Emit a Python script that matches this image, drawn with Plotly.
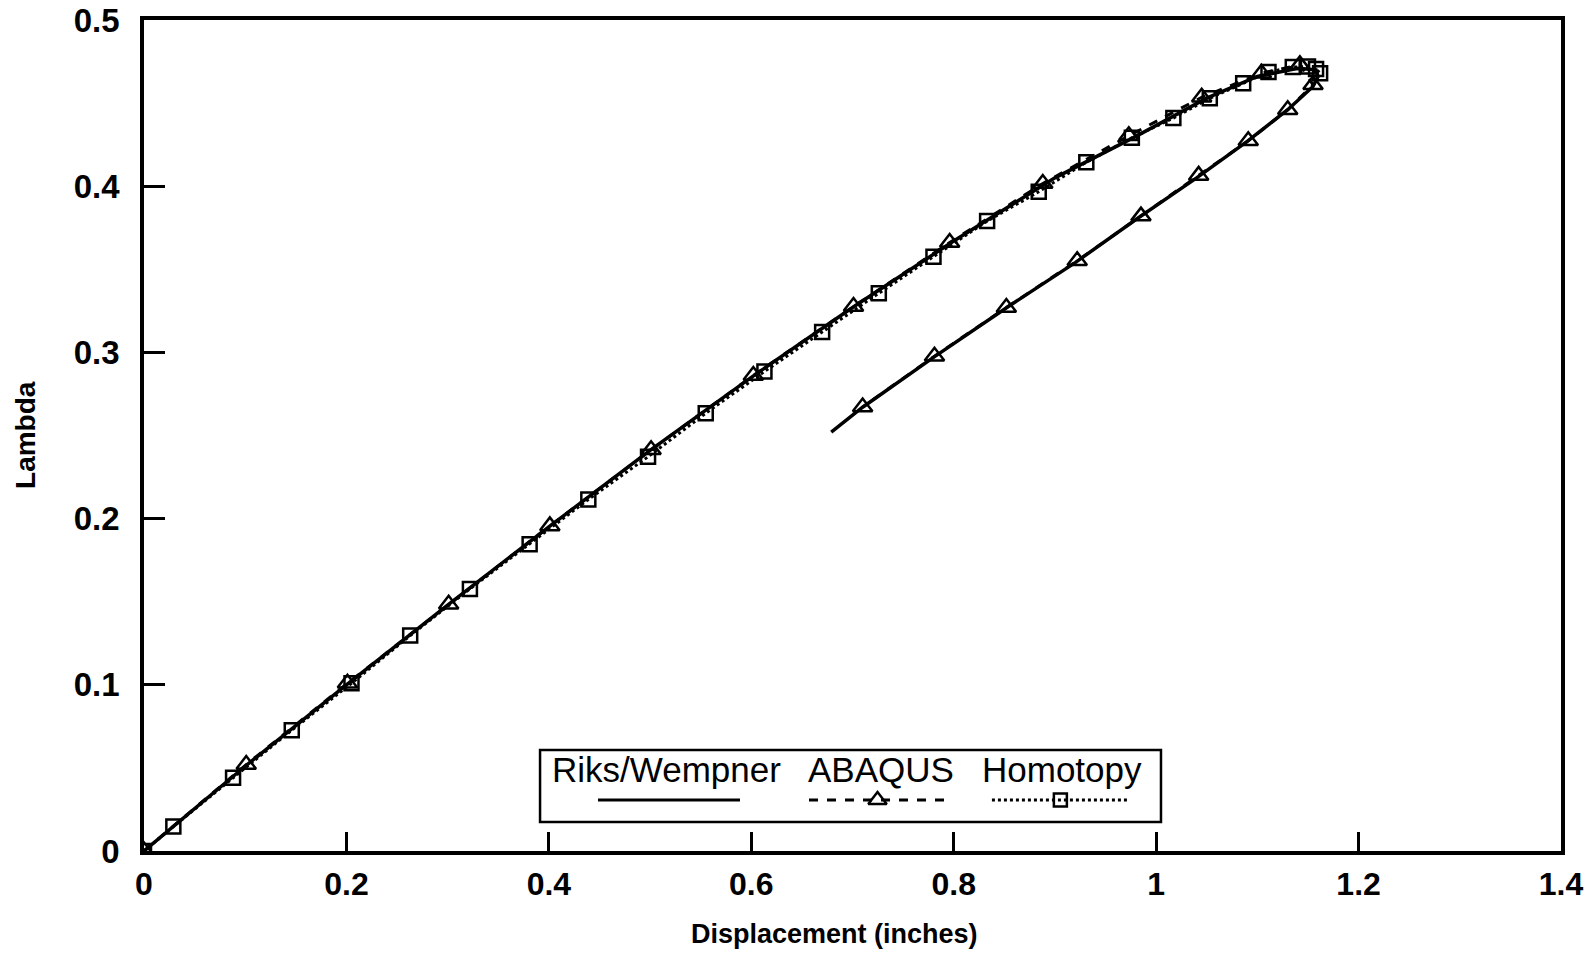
import plotly.graph_objects as go

################################
# Data (displacement in inches, lambda)
riks_x = [0, 0.1, 0.2, 0.3, 0.4, 0.5, 0.6, 0.7, 0.8, 0.9, 0.98, 1.05, 1.10, 1.14,
          1.158, 1.16, 1.155, 1.13, 1.09, 1.04, 0.98, 0.92, 0.85, 0.78, 0.71, 0.679]
riks_y = [0, 0.051, 0.100, 0.148, 0.195, 0.241, 0.285, 0.327, 0.367, 0.405, 0.430,
          0.453, 0.466, 0.471, 0.470, 0.466, 0.460, 0.446, 0.427, 0.405, 0.380,
          0.354, 0.326, 0.297, 0.267, 0.252]

abaqus_x = [0, 0.101, 0.201, 0.301, 0.401, 0.501, 0.602, 0.701, 0.796, 0.888, 0.973,
            1.045, 1.104, 1.142, 1.155, 1.130, 1.091, 1.042, 0.985, 0.922, 0.852,
            0.781, 0.710]
abaqus_y = [0, 0.052, 0.1009, 0.1485, 0.1956, 0.2414, 0.2861, 0.3276, 0.3661, 0.4016,
            0.4303, 0.4535, 0.468, 0.473, 0.461, 0.446, 0.4273, 0.4065, 0.382,
            0.3551, 0.327, 0.2977, 0.2671]

homotopy_x = [0, 0.029, 0.088, 0.146, 0.205, 0.263, 0.322, 0.381, 0.439, 0.498, 0.555,
              0.613, 0.670, 0.726, 0.780, 0.833, 0.884, 0.931, 0.976, 1.017, 1.053,
              1.086, 1.111, 1.135, 1.150, 1.158, 1.162]
homotopy_y = [0, 0.0147, 0.044, 0.0727, 0.1009, 0.1296, 0.1577, 0.1846, 0.2115, 0.2372,
              0.2634, 0.2885, 0.3123, 0.3356, 0.3576, 0.379, 0.3967, 0.4144, 0.4291,
              0.441, 0.4529, 0.462, 0.4687, 0.4717, 0.4720, 0.4705, 0.468]

series_names = ["Riks/Wempner", "ABAQUS", "Homotopy"]

FONT = "Liberation Sans, Arial, sans-serif"

fig = go.Figure()

# ABAQUS - dashed with open triangles
fig.add_trace(go.Scatter(
    x=abaqus_x, y=abaqus_y, mode="lines+markers", name=series_names[1],
    line=dict(color="black", width=3, dash="dash"),
    marker=dict(symbol="triangle-up-open", size=17, color="black",
                line=dict(width=2.5, color="black")),
    showlegend=False,
))
# Homotopy - dotted with open squares
fig.add_trace(go.Scatter(
    x=homotopy_x, y=homotopy_y, mode="lines+markers", name=series_names[2],
    line=dict(color="black", width=3, dash="dot"),
    marker=dict(symbol="square-open", size=14, color="black",
                line=dict(width=2.5, color="black")),
    showlegend=False,
))
# Riks/Wempner - solid
fig.add_trace(go.Scatter(
    x=riks_x, y=riks_y, mode="lines", name=series_names[0],
    line=dict(color="black", width=3.5),
    showlegend=False,
))

################################
# Hand-made legend (text above the line sample), drawn on an overlay axis 0..1
leg_text_x = [0.369, 0.520, 0.648]
leg_line_x = [(0.3204, 0.4206), (0.4693, 0.566), (0.5984, 0.695)]
leg_dash = ["solid", "dash", "dot"]
leg_symbol = [None, "triangle-up-open", "square-open"]
leg_text_y = 0.0975
leg_line_y = 0.0614

for name, tx, (x0, x1), dash, sym in zip(series_names, leg_text_x, leg_line_x, leg_dash, leg_symbol):
    fig.add_trace(go.Scatter(
        x=[x0, x1], y=[leg_line_y, leg_line_y], mode="lines",
        line=dict(color="black", width=3, dash=dash),
        xaxis="x2", yaxis="y2", showlegend=False, hoverinfo="skip",
    ))
    if sym:
        fig.add_trace(go.Scatter(
            x=[(x0 + x1) / 2], y=[leg_line_y], mode="markers",
            marker=dict(symbol=sym, size=16 if "triangle" in sym else 13, color="black",
                        line=dict(width=2.5, color="black")),
            xaxis="x2", yaxis="y2", showlegend=False, hoverinfo="skip",
        ))
    fig.add_annotation(
        x=tx, y=leg_text_y, xref="x2", yref="y2", text=name, showarrow=False,
        font=dict(family=FONT, size=35, color="black"), xanchor="center", yanchor="middle",
    )

fig.add_shape(type="rect", xref="x2", yref="y2", x0=0.2795, x1=0.7177, y0=0.0349, y1=0.1215,
              line=dict(color="black", width=2.5), fillcolor="rgba(0,0,0,0)")

# axis titles as annotations, placed like the reference
fig.add_annotation(x=0.487, y=-0.0999, xref="paper", yref="paper", showarrow=False,
                   text="<b>Displacement (inches)</b>", xanchor="center", yanchor="middle",
                   font=dict(family=FONT, size=27, color="black"))
fig.add_annotation(x=-0.084, y=0.5006, xref="paper", yref="paper", showarrow=False,
                   text="<b>Lambda</b>", textangle=-90, xanchor="center", yanchor="middle",
                   font=dict(family=FONT, size=28, color="black"))

################################
# Layout (page body margin is removed below, so the figure fills the window)
fig.update_layout(
    width=1595, height=955,
    margin=dict(l=144, r=34, t=20, b=104, autoexpand=False),
    plot_bgcolor="white", paper_bgcolor="white",
    font=dict(family=FONT, color="black"),
    xaxis=dict(
        range=[0, 1.4], tickvals=[0, 0.2, 0.4, 0.6, 0.8, 1, 1.2, 1.4],
        ticks="inside", ticklen=19, tickwidth=2.5, tickcolor="black",
        showline=True, linecolor="black", linewidth=3.5, mirror=True,
        showgrid=False, zeroline=False, ticklabelstandoff=2,
        ticklabeloverflow="allow", automargin=False,
        tickfont=dict(family=FONT, size=32, color="black", weight="bold"),
    ),
    yaxis=dict(
        range=[0, 0.5], tickvals=[0, 0.1, 0.2, 0.3, 0.4, 0.5],
        ticks="inside", ticklen=21, tickwidth=2.5, tickcolor="black",
        showline=True, linecolor="black", linewidth=3.5, mirror=True,
        showgrid=False, zeroline=False, ticklabelstandoff=14,
        ticklabeloverflow="allow", automargin=False,
        tickfont=dict(family=FONT, size=33, color="black", weight="bold"),
    ),
    xaxis2=dict(range=[0, 1], overlaying="x", visible=False, fixedrange=True),
    yaxis2=dict(range=[0, 1], overlaying="y", visible=False, fixedrange=True),
)

fig.write_html(
    "out.html",
    config={"displayModeBar": False},
    post_script="document.body.style.margin='0';document.body.style.overflow='hidden';",
)
